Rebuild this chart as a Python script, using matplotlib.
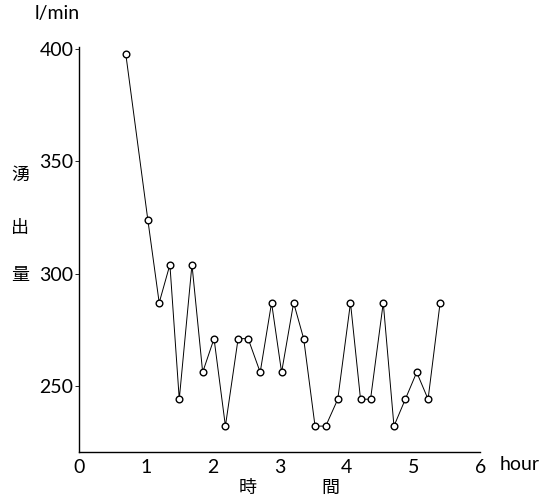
import matplotlib.pyplot as plt

# elapsed time (hour) and discharge (l/min)
hours = [0.70, 1.03, 1.20, 1.36, 1.50, 1.69, 1.85, 2.02, 2.19, 2.38,
         2.53, 2.71, 2.88, 3.03, 3.21, 3.36, 3.53, 3.69, 3.87, 4.06,
         4.21, 4.36, 4.55, 4.71, 4.88, 5.05, 5.22, 5.40]
flow = [398, 324, 287, 304, 244, 304, 256, 271, 232, 271,
        271, 256, 287, 256, 287, 271, 232, 232, 244, 287,
        244, 244, 287, 232, 244, 256, 244, 287]
x_ticks = [0, 1, 2, 3, 4, 5, 6]
y_ticks = [250, 300, 350, 400]

cjk = ['Noto Sans CJK JP', 'DejaVu Sans']
plt.rcParams['font.family'] = ['Lato', 'DejaVu Sans']

fig = plt.figure(figsize=(5.52, 5.01), dpi=100)
ax = fig.add_axes([0.143, 0.098, 0.727, 0.808])

ax.plot(hours, flow, color='black', linewidth=0.7,
        marker='o', markersize=4.8, markerfacecolor='white',
        markeredgecolor='black', markeredgewidth=1.0)

ax.set_xlim(0, 6)
ax.set_ylim(220.5, 401)
ax.set_xticks(x_ticks)
ax.set_yticks(y_ticks)
ax.tick_params(axis='x', length=0, pad=5, labelsize=14)
ax.tick_params(axis='y', length=3, width=0.6, pad=1, labelsize=14)

for side in ['top', 'right']:
    ax.spines[side].set_visible(False)
for side in ['left', 'bottom']:
    ax.spines[side].set_linewidth(1.0)

# axis labels as in the original scan
fig.text(0.063, 0.99, 'l/min', fontsize=14, va='top', ha='left')
fig.text(0.905, 0.072, 'hour', fontsize=14, va='center', ha='left')
for ch, y in zip('湧出量', [0.65, 0.545, 0.452]):
    fig.text(0.036, y, ch, fontsize=13, family=cjk, ha='center', va='center')
for ch, x in zip('時間', [0.449, 0.598]):
    fig.text(x, 0.026, ch, fontsize=13, family=cjk, ha='center', va='center')

fig.savefig('out.png', dpi=100)
